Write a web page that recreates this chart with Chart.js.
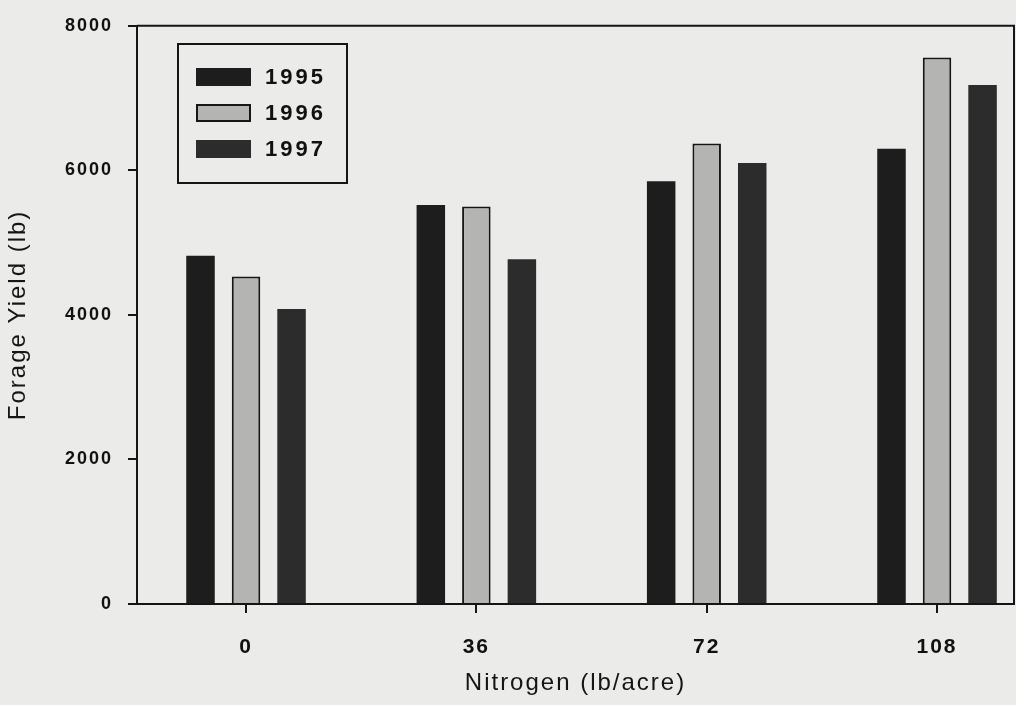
<!DOCTYPE html>
<html>
<head>
<meta charset="utf-8">
<script src="https://cdn.jsdelivr.net/npm/chart.js@4/dist/chart.umd.min.js"></script>
<style>
html,body{margin:0;padding:0;background:#ebebea;}
canvas{display:block;}
</style>
</head>
<body>
<canvas id="c" width="1016" height="705"></canvas>
<script>
const nitrogen = [0, 36, 72, 108];
const yield1995 = [4820, 5520, 5850, 6300];
const yield1996 = [4530, 5500, 6370, 7560];
const yield1997 = [4080, 4770, 6100, 7180];
const yTicks = [0, 2000, 4000, 6000, 8000];
const seriesLabels = ['1995', '1996', '1997'];

const toXY = arr => arr.map((v, i) => ({x: nitrogen[i], y: v}));

const bgPlugin = {
  id: 'bg',
  beforeDraw(chart) {
    const ctx = chart.ctx;
    ctx.save();
    ctx.fillStyle = '#ebebea';
    ctx.fillRect(0, 0, chart.width, chart.height);
    ctx.restore();
    ctx.letterSpacing = '2px';
  }
};

const framePlugin = {
  id: 'frame',
  afterDraw(chart) {
    const ctx = chart.ctx;
    const a = chart.chartArea;
    ctx.save();
    ctx.strokeStyle = '#151515';
    ctx.lineWidth = 2;
    ctx.beginPath();
    ctx.moveTo(a.left, a.top);
    ctx.lineTo(a.right, a.top);
    ctx.lineTo(a.right, a.bottom);
    ctx.stroke();
    // legend
    ctx.lineWidth = 2;
    ctx.strokeRect(178, 44, 169, 139);
    const rows = [68, 104, 140];
    chart.data.datasets.forEach((ds, i) => {
      const y = rows[i];
      ctx.fillStyle = ds.backgroundColor;
      ctx.fillRect(196, y, 55, 18);
      if (ds.borderWidth) {
        ctx.strokeStyle = ds.borderColor;
        ctx.lineWidth = 2;
        ctx.strokeRect(197, y + 1, 53, 16);
      }
      ctx.fillStyle = '#111';
      ctx.font = 'bold 22px "Liberation Sans", Arial, sans-serif';
      ctx.letterSpacing = '3px';
      ctx.textBaseline = 'middle';
      ctx.textAlign = 'left';
      ctx.fillText(ds.label, 265, y + 10);
    });
    ctx.restore();
  }
};

new Chart(document.getElementById('c'), {
  type: 'bar',
  data: {
    datasets: [
      {label: seriesLabels[0], data: toXY(yield1995), backgroundColor: '#1d1d1d', borderWidth: 0},
      {label: seriesLabels[1], data: toXY(yield1996), backgroundColor: '#b4b4b2', borderColor: '#161616', borderWidth: 2},
      {label: seriesLabels[2], data: toXY(yield1997), backgroundColor: '#2c2c2c', borderWidth: 0}
    ]
  },
  options: {
    responsive: false,
    animation: false,
    devicePixelRatio: 1,
    categoryPercentage: 0.593,
    barPercentage: 0.626,
    layout: {padding: {top: 21, right: 2, left: 0, bottom: 0}},
    plugins: {
      legend: {display: false},
      tooltip: {enabled: false}
    },
    scales: {
      x: {
        type: 'linear',
        offset: false,
        min: -17.04,
        max: 120.03,
        afterBuildTicks(scale) { scale.ticks = nitrogen.map(v => ({value: v})); },
        afterFit(scale) { scale.height = 101; },
        ticks: {
          autoSkip: false, maxRotation: 0, padding: 22,
          color: '#111',
          font: {family: '"Liberation Sans", Arial, sans-serif', size: 21, weight: 'bold'},
          callback: v => String(v)
        },
        grid: {offset: false, drawOnChartArea: false, drawTicks: true, tickLength: 9, color: '#151515', lineWidth: 2},
        border: {display: true, color: '#151515', width: 2},
        title: {
          display: true, text: 'Nitrogen (lb/acre)', color: '#151515',
          font: {family: '"Liberation Sans", Arial, sans-serif', size: 24},
          padding: {top: 0, bottom: 7}
        }
      },
      y: {
        min: 0, max: 8000,
        afterBuildTicks(scale) { scale.ticks = yTicks.map(v => ({value: v})); },
        afterFit(scale) { scale.width = 137; },
        ticks: {
          padding: 15, color: '#111',
          font: {family: '"Liberation Sans", Arial, sans-serif', size: 18, weight: 'bold'},
          callback: v => String(v)
        },
        grid: {drawOnChartArea: false, drawTicks: true, tickLength: 9, color: '#151515', lineWidth: 2},
        border: {display: true, color: '#151515', width: 2},
        title: {
          display: true, text: 'Forage Yield (lb)', color: '#151515',
          font: {family: '"Liberation Sans", Arial, sans-serif', size: 24},
          padding: {top: 4, bottom: 0}
        }
      }
    }
  },
  plugins: [bgPlugin, framePlugin]
});
</script>
</body>
</html>
